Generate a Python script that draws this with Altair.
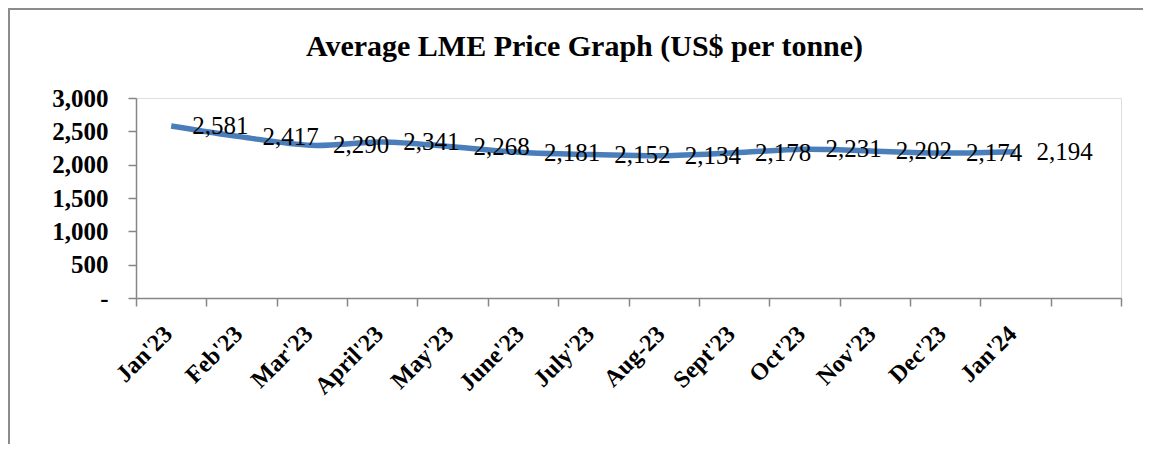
import altair as alt
import pandas as pd

# ---- data ----
months = ["Jan'23", "Feb'23", "Mar'23", "April'23", "May'23", "June'23", "July'23",
          "Aug-23", "Sept'23", "Oct'23", "Nov'23", "Dec'23", "Jan'24"]
prices = [2581, 2417, 2290, 2341, 2268, 2181, 2152, 2134, 2178, 2231, 2202, 2174, 2194]
y_ticks = [0, 500, 1000, 1500, 2000, 2500, 3000]
chart_title = "Average LME Price Graph (US$ per tonne)"

df = pd.DataFrame({"month": months, "price": prices})
x_domain = months + [" "]  # Excel leaves one empty category slot at the right

W, H = 985, 200
FONT = "Liberation Serif"
AXIS_GREY = "#868686"

x_enc = alt.X(
    "month:N",
    sort=None,
    scale=alt.Scale(domain=x_domain, paddingInner=0, paddingOuter=0),
    axis=alt.Axis(
        title=None, labelAngle=-45, labelFont=FONT, labelFontSize=24,
        labelFontWeight="bold", labelColor="black", tickBand="extent",
        labelAlign="right", labelBaseline="middle", labelOffset=-3,
        tickSize=8, tickColor=AXIS_GREY, tickWidth=1.5,
        domainColor=AXIS_GREY, domainWidth=1.5, labelPadding=24, grid=False,
    ),
)
y_enc = alt.Y(
    "price:Q",
    scale=alt.Scale(domain=[0, 3000], nice=False),
    axis=alt.Axis(
        title=None, values=y_ticks,
        labelExpr="datum.value == 0 ? '-\u00a0\u00a0' : format(datum.value, ',')",
        labelFont=FONT, labelFontSize=25, labelFontWeight="bold", labelColor="black",
        tickSize=8, tickColor=AXIS_GREY, tickWidth=1.5,
        domainColor=AXIS_GREY, domainWidth=1.5, labelPadding=20, grid=False,
    ),
)

base = alt.Chart(df)

line = base.mark_line(interpolate="cardinal", color="#4A7EBB", strokeWidth=5.5).encode(
    x=x_enc, y=y_enc
)

labels = base.mark_text(
    align="left", baseline="middle", dx=21, font=FONT, fontSize=25, color="black"
).encode(x=x_enc, y=y_enc, text=alt.Text("price:Q", format=","))

frame = alt.Chart(pd.DataFrame({"k": [0]})).mark_rect(
    fill="white", fillOpacity=0, stroke="#8C8C8C", strokeWidth=2
).encode(
    x=alt.value(-127), x2=alt.value(W + 300),
    y=alt.value(-89), y2=alt.value(H + 400),
)

chart = alt.layer(frame, line, labels).properties(
    width=W,
    height=H,
    title=alt.TitleParams(
        chart_title, font=FONT, fontSize=30, fontWeight="bold", color="black",
        anchor="middle", dx=-44, dy=58,
    ),
    padding={"left": 128, "top": 90, "right": 22, "bottom": 146},
    autosize=alt.AutoSizeParams(type="none"),
).configure_view(stroke=None).configure(background="white")

chart.save("out.html", embed_options={"renderer": "svg", "actions": False})
